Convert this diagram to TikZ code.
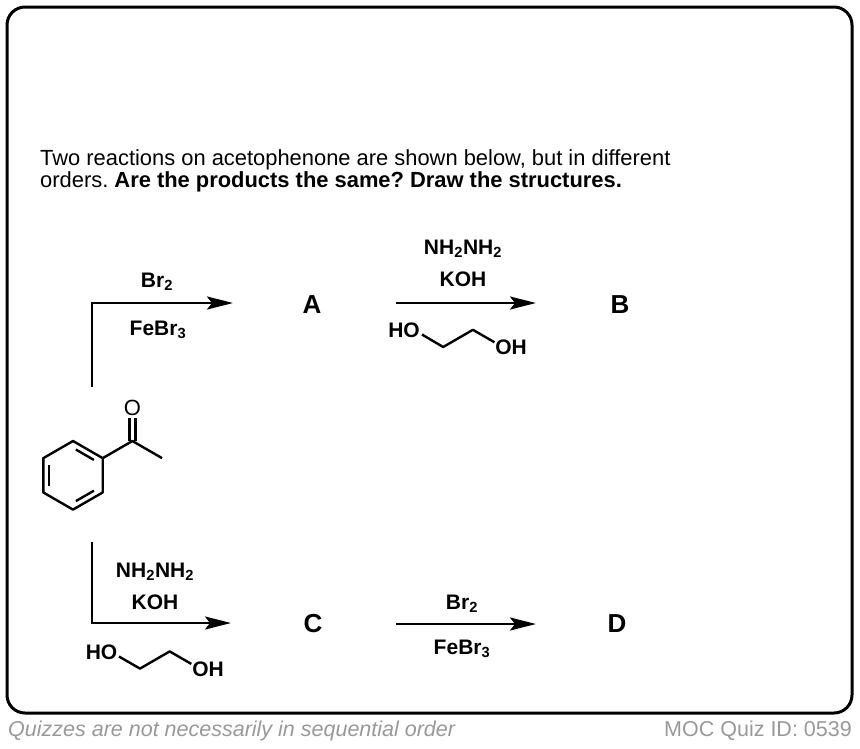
\documentclass[tikz,border=0pt]{standalone}
\usepackage{fontspec}
\setmainfont{Liberation Sans}
\usetikzlibrary{arrows.meta,calc}
\begin{document}
\frenchspacing
\begin{tikzpicture}[x=1pt,y=-1pt,
  bond/.style={line width=2.4pt,line join=round},
  rxn/.style={line width=2.4pt,line join=miter,-{Stealth[length=26pt,width=13pt,inset=5pt]}},
  reag/.style={inner sep=0pt,font=\fontsize{21}{24}\selectfont\bfseries},
  atom/.style={inner sep=0pt,font=\fontsize{21}{24}\selectfont\bfseries},
  prod/.style={inner sep=0pt,font=\fontsize{26}{30}\selectfont\bfseries},
  body/.style={inner sep=0pt,anchor=base west,font=\fontsize{21.9}{24}\selectfont},
  foot/.style={inner sep=0pt,text=black!40,font=\fontsize{21.5}{24}\selectfont\itshape}]
\useasboundingbox (0,0) rectangle (860,748);
% frame
\draw[line width=3pt,rounded corners=18pt] (7,7) rectangle (852,713);
% question text
\node[body] (q1) at (40,165) {Two reactions on acetophenone are shown below, but in different};
\node[body] (q2) at (40,187) {orders. \textbf{Are the products the same? Draw the structures.}};
% ---------- acetophenone ----------
\coordinate (c) at (73,475.3);
\coordinate (r1) at (73,441);
\coordinate (r2) at (102.7,458.15);
\coordinate (r3) at (102.7,492.45);
\coordinate (r4) at (73,509.6);
\coordinate (r5) at (43.3,492.45);
\coordinate (r6) at (43.3,458.15);
\draw[bond] (r1) -- (r2) -- (r3) -- (r4) -- (r5) -- (r6) -- cycle;
\foreach \p/\q in {r1/r2,r3/r4,r5/r6}{
  \draw[bond] ($ ($(c)!0.8!(\p)$)!0.12!($(c)!0.8!(\q)$) $) -- ($ ($(c)!0.8!(\q)$)!0.12!($(c)!0.8!(\p)$) $);
}
\coordinate (cc) at (132.4,441);
\coordinate (me) at (162.1,458.15);
\node[inner sep=0pt,font=\fontsize{22}{24}\selectfont] (O) at (132.4,407.5) {O};
\draw[bond] (r2) -- (cc) -- (me);
\draw[bond] ($(cc)+(-3,0)$) -- ($(O.south)+(-3,3)$);
\draw[bond] ($(cc)+(3,0)$) -- ($(O.south)+(3,3)$);
% ---------- top sequence ----------
\coordinate (t0) at (92,387);
\coordinate (t1) at (92,303);
\coordinate (t2) at (233,303);
\draw[rxn] (t0) -- (t1) -- (t2);
\node[reag] (br2a) at (157,282) {Br\textsubscript{2}};
\node[reag] (febr3a) at (158,330) {FeBr\textsubscript{3}};
\node[prod] (A) at (312,305) {A};
\coordinate (u1) at (396,303);
\coordinate (u2) at (536,303);
\draw[rxn] (u1) -- (u2);
\node[reag] (hyda) at (463,249) {NH\textsubscript{2}NH\textsubscript{2}};
\node[reag] (koha) at (463,279) {KOH};
\node[atom] (hoa) at (404,330) {HO};
\node[atom] (oha) at (511,347.5) {OH};
\coordinate (ga1) at (422,334.5);
\coordinate (ga2) at (443.2,347);
\coordinate (ga3) at (472.9,329.8);
\coordinate (ga4) at (494.5,342.3);
\draw[bond] (ga1) -- (ga2) -- (ga3) -- (ga4);
\node[prod] (B) at (620,305) {B};
% ---------- bottom sequence ----------
\coordinate (b0) at (92,542);
\coordinate (b1) at (92,623);
\coordinate (b2) at (231,623);
\draw[rxn] (b0) -- (b1) -- (b2);
\node[reag] (hydb) at (155,572) {NH\textsubscript{2}NH\textsubscript{2}};
\node[reag] (kohb) at (155,602) {KOH};
\node[atom] (hob) at (101.5,652) {HO};
\node[atom] (ohb) at (208,669.5) {OH};
\coordinate (gb1) at (119,656.5);
\coordinate (gb2) at (140,668.6);
\coordinate (gb3) at (169.7,651.4);
\coordinate (gb4) at (191.3,663.9);
\draw[bond] (gb1) -- (gb2) -- (gb3) -- (gb4);
\node[prod] (C) at (313,624) {C};
\coordinate (v1) at (396,624);
\coordinate (v2) at (536,624);
\draw[rxn] (v1) -- (v2);
\node[reag] (br2b) at (462,604) {Br\textsubscript{2}};
\node[reag] (febr3b) at (462,649) {FeBr\textsubscript{3}};
\node[prod] (D) at (617,624) {D};
% ---------- footer ----------
\node[foot,anchor=base west] (f1) at (8,736) {Quizzes are not necessarily in sequential order};
\node[foot,anchor=base east,font=\fontsize{21.5}{24}\selectfont\upshape] (f2) at (852,736) {MOC Quiz ID: 0539};
\end{tikzpicture}
\end{document}
